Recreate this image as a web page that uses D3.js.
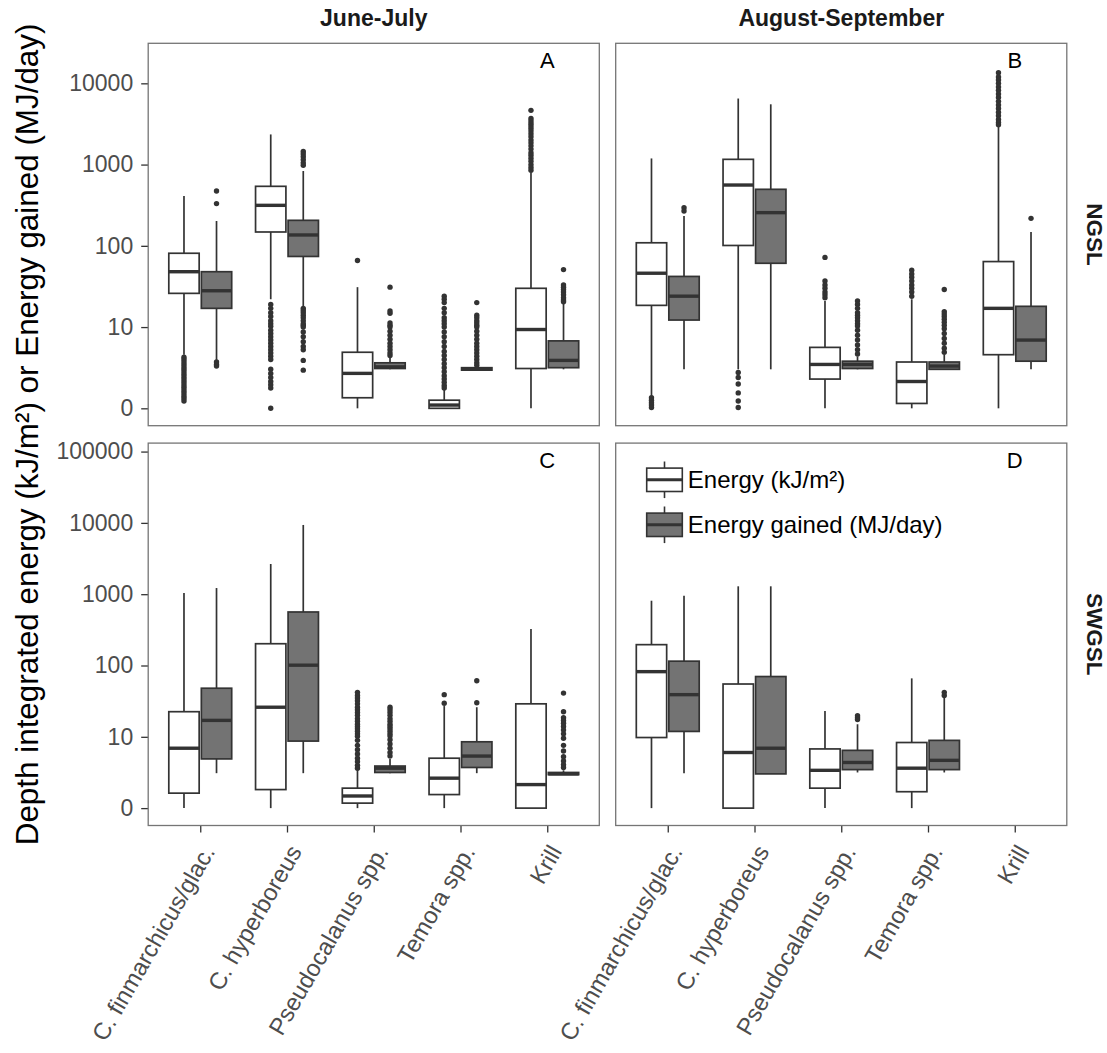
<!DOCTYPE html>
<html>
<head>
<meta charset="utf-8">
<script src="https://cdn.jsdelivr.net/npm/d3@7"></script>
<style>
  body { margin: 0; background: #ffffff; }
  svg { display: block; font-family: "Liberation Sans", Arial, sans-serif; }
</style>
</head>
<body>
<svg id="chart" width="1107" height="1053"></svg>
<script>
// ---- data -------------------------------------------------------------
const categories = ["C. finmarchicus/glac.", "C. hyperboreus", "Pseudocalanus spp.", "Temora spp.", "Krill"];
const seasons = ["June-July", "August-September"];
const regions = ["NGSL", "SWGSL"];
const seriesNames = ["Energy (kJ/m\u00B2)", "Energy gained (MJ/day)"];
const panelLetters = ["A", "B", "C", "D"];
const panelLetterValue = [19000, 75000];          // y value of the panel letters, per row
const yTicks = [[0, 10, 100, 1000, 10000], [0, 10, 100, 1000, 10000, 100000]];

// box summaries per category: [lower whisker, Q1, median, Q3, upper whisker]
const ngslJunJulEnergy = [[6.6, 26, 48, 81, 410], [22, 148, 315, 540, 2350], [0, 1.3, 4.3, 6.9, 31], [0, 0, 0.4, 1.0, 2.3], [0, 4.9, 9.7, 30, 800]];
const ngslJunJulGained = [[5.9, 17, 28, 48, 202], [18, 74, 136, 206, 833], [4.8, 4.9, 5.1, 5.6, 6.2], [4.6, 4.7, 4.8, 5.0, 5.0], [4.8, 5.0, 5.9, 8.3, 20]];
const ngslAugSepEnergy = [[1.5, 18.5, 46, 109, 1190], [4.8, 101, 560, 1160, 6500], [0, 3.6, 5.4, 7.5, 21], [0, 0.6, 3.3, 5.7, 22], [0, 6.6, 17, 64, 3040]];
const ngslAugSepGained = [[4.8, 12.2, 24, 42, 233], [4.8, 61, 256, 496, 5520], [4.8, 4.9, 5.4, 5.8, 6.4], [4.8, 4.8, 5.2, 5.7, 6.6], [4.8, 5.8, 8.4, 18, 148]];
const swgslJunJulEnergy = [[0, 2.1, 8.4, 22.5, 1040], [0, 2.6, 26, 202, 2650], [0, 0.7, 1.7, 2.8, 5.4], [0, 1.9, 4.2, 7.0, 27], [0, 0, 3.3, 29, 325]];
const swgslJunJulGained = [[4.9, 6.9, 17, 48, 1220], [4.9, 9.4, 101, 563, 9350], [4.9, 5.0, 5.6, 5.9, 6.9], [4.9, 5.7, 7.3, 9.3, 26], [4.7, 4.7, 4.8, 5.0, 5.3]];
const swgslAugSepEnergy = [[0, 9.9, 82, 196, 810], [0, 0, 7.8, 55, 1290], [0, 2.8, 5.3, 8.3, 23], [0, 2.3, 5.6, 9.2, 66], null];
const swgslAugSepGained = [[4.9, 11.9, 39, 115, 950], [4.8, 4.8, 8.4, 70, 1290], [5.0, 5.4, 6.4, 8.1, 15], [5.0, 5.4, 6.7, 9.5, 36], null];

// outlying observations per category
const ngslJunJulEnergyOut = [
  [6.3, 6.0, 5.7, 5.4, 5.1, 4.8, 4.5, 4.2, 3.9, 3.6, 3.3, 3.0, 2.7, 2.4, 2.1, 1.8, 1.5, 1.2, 0.9],
  [19, 17, 15, 13.5, 12, 11, 10.2, 9.6, 9.2, 8.8, 8.4, 8.0, 7.6, 7.2, 6.8, 6.4, 6.0, 4.8, 4.3, 3.8, 3.3, 2.9, 2.5, 0],
  [66],
  [24, 22, 20, 17, 15, 13, 12, 11, 10, 9.4, 8.8, 8.2, 7.6, 7.0, 6.5, 6.0, 5.5, 5.0, 4.5, 4.0, 3.6, 3.2, 2.8, 2.5],
  [4650, 3700, 3450, 3200, 3000, 2800, 2600, 2400, 2200, 2000, 1850, 1700, 1550, 1400, 1300, 1200, 1100, 1000, 920, 850]
];
const ngslJunJulGainedOut = [
  [473, 331, 5.7, 5.4, 5.2],
  [1450, 1350, 1250, 1150, 1050, 980, 17, 16, 15, 14, 13, 12, 11, 10.5, 10, 9.4, 8.8, 8.2, 7.6, 7.2, 5.9, 4.7],
  [31, 15.8, 14.8, 11.2, 10.5, 10, 9.5, 9, 8.5, 8, 7.6, 7.2, 6.8, 6.5],
  [20, 14, 13, 12, 11.2, 10.5, 10, 9.5, 9, 8.5, 8, 7.6, 7.2, 6.8, 6.4, 6.0, 5.6, 5.3],
  [51, 33, 31, 29, 27, 25, 23, 21.5, 20.5]
];
const ngslAugSepEnergyOut = [
  [1.3, 1.0, 0.7, 0.4, 0.1],
  [4.4, 3.8, 3.0, 1.9, 0.9, 0.1],
  [72, 37, 33, 30, 27, 25, 23],
  [50, 45, 41, 37, 33, 30, 27, 24],
  [13500, 12000, 11000, 10000, 9000, 8200, 7400, 6700, 6000, 5400, 4900, 4400, 4000, 3600, 3300, 3100]
];
const ngslAugSepGainedOut = [
  [295, 268],
  [],
  [21, 19, 17, 15, 14, 13, 12, 11, 10.3, 9.6, 9, 8.4, 7.8, 7.2, 6.7],
  [29, 15.5, 14.5, 13.5, 12.5, 11.5, 10.5, 9.8, 9.2, 8.6, 8.0, 7.4, 6.9],
  [218]
];
const swgslJunJulEnergyOut = [
  [],
  [],
  [42, 38, 35, 32, 29, 26, 24, 22, 20, 18, 16.5, 15, 14, 13, 12, 11, 10.2, 9.5, 8.8, 8.2, 7.6, 7, 6.5, 6, 5.6],
  [39, 29.5],
  []
];
const swgslJunJulGainedOut = [
  [],
  [],
  [26, 24, 22, 20, 18, 16.5, 15, 14, 13, 12, 11, 10.3, 9.6, 9, 8.4, 7.8, 7.3],
  [61, 30],
  [41, 22.5, 18.5, 17, 15.5, 14, 12.5, 11, 9.8, 8.8, 8, 7.2, 6.6, 6.1, 5.7]
];
const swgslAugSepEnergyOut = [[], [], [], [], []];
const swgslAugSepGainedOut = [[], [], [19.8, 18.5, 17.5], [42, 38], []];

// ---- layout -----------------------------------------------------------
const panelW = 451.1, panelH = 382.4;
const colX = [148.2, 615.7];
const rowY = [43.3, 443.1];
const lineCol = "#333333";
const fills = ["#ffffff", "#737373"];
const fontFam = "'Liberation Sans', Arial, sans-serif";

const panels = [
  { row: 0, col: 0, stats: [ngslJunJulEnergy, ngslJunJulGained], out: [ngslJunJulEnergyOut, ngslJunJulGainedOut] },
  { row: 0, col: 1, stats: [ngslAugSepEnergy, ngslAugSepGained], out: [ngslAugSepEnergyOut, ngslAugSepGainedOut] },
  { row: 1, col: 0, stats: [swgslJunJulEnergy, swgslJunJulGained], out: [swgslJunJulEnergyOut, swgslJunJulGainedOut] },
  { row: 1, col: 1, stats: [swgslAugSepEnergy, swgslAugSepGained], out: [swgslAugSepEnergyOut, swgslAugSepGainedOut] }
];

// axis transform: linear from 0 to 10, logarithmic above
const tr = v => (v <= 10 ? v / 10 : Math.log10(v));

const svg = d3.select("#chart");

const x = d3.scalePoint().domain(categories).range([0, panelW]).padding(0.6);
const step = x.step();
const dodge = d3.scaleBand().domain([0, 1])
  .range([-0.375 * step, 0.375 * step])
  .paddingInner(0.0667).paddingOuter(0.0333);
const bw = dodge.bandwidth();

const yScales = [0, 1].map(r => {
  const hi = tr(panelLetterValue[r]);
  const pad = 0.05 * hi;
  return d3.scaleLinear().domain([-pad, hi + pad]).range([panelH, 0]);
});

panels.forEach((p, i) => {
  const g = svg.append("g").attr("transform", `translate(${colX[p.col]},${rowY[p.row]})`);
  const y = yScales[p.row];

  // y axis (left column only)
  if (p.col === 0) {
    const yAxis = d3.axisLeft(y)
      .tickValues(yTicks[p.row].map(tr))
      .tickFormat((d, k) => String(yTicks[p.row][k]))
      .tickSize(7).tickPadding(8);
    const ya = g.append("g").call(yAxis);
    ya.select(".domain").remove();
    ya.selectAll(".tick line").attr("stroke", lineCol).attr("stroke-width", 1.3);
    ya.selectAll(".tick text").attr("fill", "#4d4d4d").style("font-size", "23px")
      .style("font-family", fontFam);
  }

  // x axis (bottom row only)
  if (p.row === 1) {
    const xa = g.append("g").attr("transform", `translate(0,${panelH})`)
      .call(d3.axisBottom(x).tickSize(7));
    xa.select(".domain").remove();
    xa.selectAll(".tick line").attr("stroke", lineCol).attr("stroke-width", 1.3);
    xa.selectAll(".tick text")
      .attr("x", 0).attr("y", 0).attr("dy", 0)
      .attr("transform", "translate(15,26) rotate(-60)")
      .style("text-anchor", "end")
      .attr("fill", "#4d4d4d").style("font-size", "23.8px")
      .style("font-family", fontFam);
  }

  // boxplots
  [0, 1].forEach(s => {
    const fill = fills[s];
    p.stats[s].forEach((st, c) => {
      if (!st) return;
      const [lo, q1, med, q3, hi] = st;
      const cx = x(categories[c]) + dodge(s) + bw / 2;
      const bg = g.append("g");
      bg.append("line").attr("x1", cx).attr("x2", cx)
        .attr("y1", y(tr(q3))).attr("y2", y(tr(hi)))
        .attr("stroke", lineCol).attr("stroke-width", 1.7);
      bg.append("line").attr("x1", cx).attr("x2", cx)
        .attr("y1", y(tr(q1))).attr("y2", y(tr(lo)))
        .attr("stroke", lineCol).attr("stroke-width", 1.7);
      bg.append("rect")
        .attr("x", cx - bw / 2).attr("width", bw)
        .attr("y", y(tr(q3))).attr("height", Math.max(0.01, y(tr(q1)) - y(tr(q3))))
        .attr("fill", fill).attr("stroke", lineCol).attr("stroke-width", 1.7);
      bg.append("line").attr("x1", cx - bw / 2).attr("x2", cx + bw / 2)
        .attr("y1", y(tr(med))).attr("y2", y(tr(med)))
        .attr("stroke", lineCol).attr("stroke-width", 3.4);
      bg.selectAll("circle").data(p.out[s][c]).join("circle")
        .attr("cx", cx).attr("cy", d => y(tr(d))).attr("r", 2.7)
        .attr("fill", lineCol);
    });
  });

  // panel border
  g.append("rect").attr("width", panelW).attr("height", panelH)
    .attr("fill", "none").attr("stroke", "#757575").attr("stroke-width", 1.3);

  // panel letter
  g.append("text")
    .attr("x", x(categories[4]))
    .attr("y", y(tr(panelLetterValue[p.row])))
    .attr("text-anchor", "middle").attr("dominant-baseline", "central")
    .style("font-size", "22px").attr("fill", "#000")
    .text(panelLetters[i]);
});

// column strips
seasons.forEach((s, c) => {
  svg.append("text")
    .attr("x", colX[c] + panelW / 2).attr("y", 26)
    .attr("text-anchor", "middle")
    .style("font-size", "23px").style("font-weight", "bold").attr("fill", "#1a1a1a")
    .text(s);
});

// row strips
regions.forEach((r, k) => {
  svg.append("text")
    .attr("transform", `translate(1087,${rowY[k] + panelH / 2}) rotate(90)`)
    .attr("text-anchor", "middle")
    .style("font-size", "22.5px").style("font-weight", "bold").attr("fill", "#1a1a1a")
    .text(r);
});

// y axis title
svg.append("text")
  .attr("transform", `translate(38,${(rowY[0] + rowY[1] + panelH) / 2}) rotate(-90)`)
  .attr("text-anchor", "middle")
  .style("font-size", "31.4px").attr("fill", "#000")
  .text("Depth integrated energy (kJ/m\u00B2) or Energy gained (MJ/day)");

// legend inside the bottom-right panel
const lg = svg.append("g").attr("transform", `translate(${colX[1] + 31},${rowY[1] + 25})`);
seriesNames.forEach((name, s) => {
  const ky = s * 45;
  const kw = 35.6, kh = 23.4;
  const item = lg.append("g").attr("transform", `translate(0,${ky})`);
  item.append("line").attr("x1", kw / 2).attr("x2", kw / 2)
    .attr("y1", -6.6).attr("y2", kh + 6.6)
    .attr("stroke", lineCol).attr("stroke-width", 1.6);
  item.append("rect").attr("width", kw).attr("height", kh)
    .attr("fill", fills[s]).attr("stroke", lineCol).attr("stroke-width", 1.6);
  item.append("line").attr("x1", 0).attr("x2", kw)
    .attr("y1", kh / 2).attr("y2", kh / 2)
    .attr("stroke", lineCol).attr("stroke-width", 3);
  item.append("text").attr("x", kw + 5.5).attr("y", kh / 2)
    .attr("dominant-baseline", "central")
    .style("font-size", "24px").attr("fill", "#000")
    .text(name);
});
</script>
</body>
</html>
